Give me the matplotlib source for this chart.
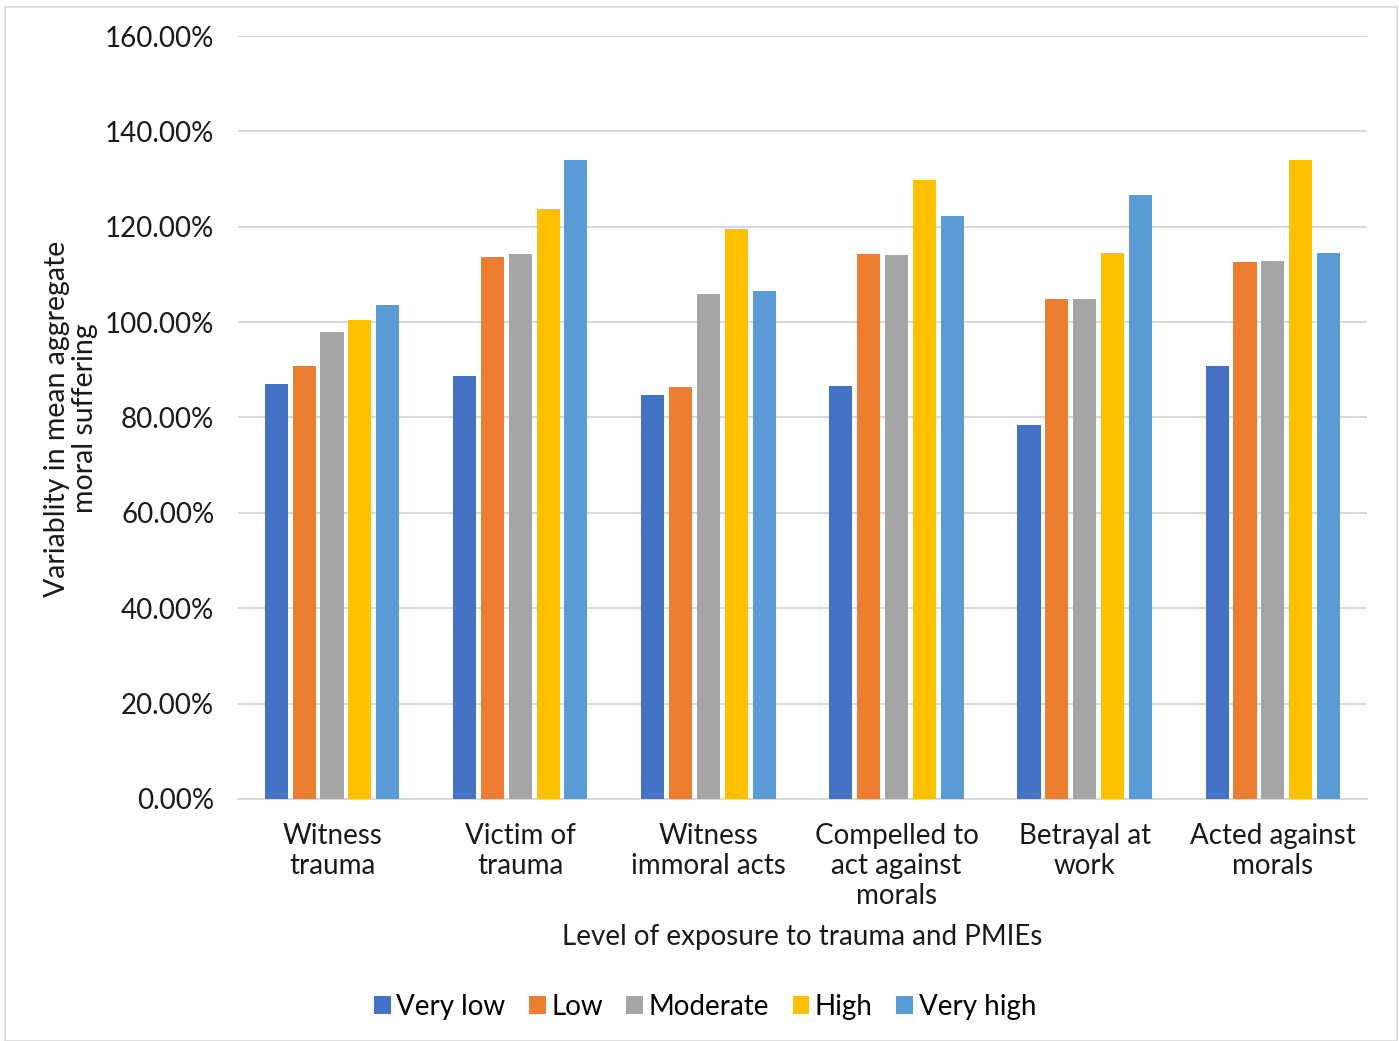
import matplotlib.pyplot as plt
import numpy as np
from matplotlib.patches import Rectangle
from matplotlib.ticker import FuncFormatter, MultipleLocator

plt.rcParams["font.family"] = ["Lato", "DejaVu Sans"]

categories = ["Witness\ntrauma", "Victim of\ntrauma", "Witness\nimmoral acts",
              "Compelled to\nact against\nmorals", "Betrayal at\nwork", "Acted against\nmorals"]
levels = ["Very low", "Low", "Moderate", "High", "Very high"]
colors = ["#4472C4", "#ED7D31", "#A5A5A5", "#FFC000", "#5B9BD5"]

very_low = [87.0, 88.6, 84.7, 86.7, 78.4, 90.7]
low = [90.9, 113.6, 86.4, 114.3, 104.8, 112.7]
moderate = [97.9, 114.3, 105.8, 114.0, 104.9, 112.9]
high = [100.4, 123.8, 119.5, 129.8, 114.5, 134.0]
very_high = [103.6, 134.1, 106.5, 122.2, 126.6, 114.6]
series = [very_low, low, moderate, high, very_high]

fig = plt.figure(figsize=(13.99, 10.41), dpi=100)
ax = fig.add_axes([0.1701, 0.2325, 0.8070, 0.7329])

x = np.arange(len(categories))
slot = 0.74 / len(levels)
for i, (vals, lvl, col) in enumerate(zip(series, levels, colors)):
    offs = (i - (len(levels) - 1) / 2) * slot
    ax.bar(x + offs, vals, width=slot * 0.83, color=col, label=lvl, zorder=3)

ax.set_xlim(-0.5, len(categories) - 0.5)
ax.set_ylim(0, 160)
ax.yaxis.set_major_locator(MultipleLocator(20))
ax.yaxis.set_major_formatter(FuncFormatter(lambda v, _: f"{v:.2f}%"))
ax.grid(axis="y", color="#d9d9d9", linewidth=1.5, zorder=0)
for side in ["top", "right", "left"]:
    ax.spines[side].set_visible(False)
ax.spines["bottom"].set_color("#d9d9d9")
ax.spines["bottom"].set_linewidth(1.5)
ax.tick_params(axis="both", length=0, labelsize=20, colors="#1a1a1a")
ax.tick_params(axis="y", pad=17)
ax.tick_params(axis="x", pad=17)
ax.set_xticks(x)
ax.set_xticklabels(categories, linespacing=1.2)

ax.set_xlabel("Level of exposure to trauma and PMIEs", fontsize=20, labelpad=11, color="#1a1a1a")
fig.text(0.051, 0.598, "Variablity in mean aggregate\nmoral suffering", rotation=90,
         ha="center", va="center", fontsize=20.5, color="#1a1a1a", linespacing=1.1)

fig.legend(loc="center", bbox_to_anchor=(0.504, 0.033), ncol=5, frameon=False,
           fontsize=20, handlelength=0.6, handleheight=0.6, handletextpad=0.2,
           columnspacing=0.85)

fig.patches.append(Rectangle((0.0036, 0.0), 0.995, 0.9933, transform=fig.transFigure,
                             fill=False, edgecolor="#d9d9d9", linewidth=1.2))

fig.savefig("out.png", dpi=100)
